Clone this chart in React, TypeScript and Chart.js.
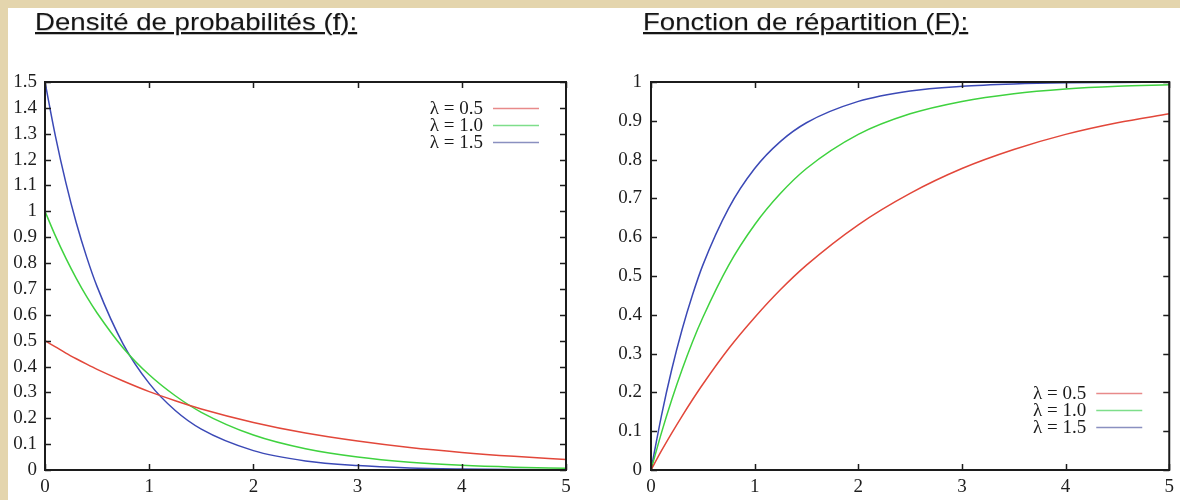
import React, { useEffect, useRef } from "react";
import { Chart, registerables } from "chart.js";

Chart.register(...registerables);

// ---- data ----
const xs = [0, 0.1, 0.2, 0.3, 0.4, 0.5, 0.75, 1, 1.25, 1.5, 2, 2.5, 3, 3.5, 4, 4.5, 5];
const lambdaLabels = ["λ = 0.5", "λ = 1.0", "λ = 1.5"];

const density05 = [0.5, 0.476, 0.452, 0.43, 0.409, 0.389, 0.344, 0.303, 0.268, 0.236, 0.184, 0.143, 0.112, 0.087, 0.068, 0.053, 0.041];
const density10 = [1.0, 0.905, 0.819, 0.741, 0.67, 0.607, 0.472, 0.368, 0.287, 0.223, 0.135, 0.082, 0.05, 0.03, 0.018, 0.011, 0.007];
const density15 = [1.5, 1.291, 1.111, 0.956, 0.823, 0.709, 0.487, 0.335, 0.23, 0.158, 0.075, 0.035, 0.017, 0.008, 0.004, 0.002, 0.001];

const cdf05 = [0, 0.049, 0.095, 0.139, 0.181, 0.221, 0.313, 0.393, 0.465, 0.528, 0.632, 0.713, 0.777, 0.826, 0.865, 0.895, 0.918];
const cdf10 = [0, 0.095, 0.181, 0.259, 0.33, 0.393, 0.528, 0.632, 0.713, 0.777, 0.865, 0.918, 0.95, 0.97, 0.982, 0.989, 0.993];
const cdf15 = [0, 0.139, 0.259, 0.362, 0.451, 0.528, 0.675, 0.777, 0.847, 0.895, 0.95, 0.977, 0.989, 0.995, 0.998, 0.999, 1.0];

const xTickRange = { min: 0, max: 5, step: 1 };
const densityYRange = { min: 0, max: 1.5, step: 0.1 };
const cdfYRange = { min: 0, max: 1, step: 0.1 };

const titles = ["Densité de probabilités (f):", "Fonction de répartition (F):"];

// ---- styles ----
const COLORS = ["#e2473a", "#3fd23f", "#3b49b6"];
const LEGEND_COLORS = ["#e88a8a", "#7ede8a", "#8a90c0"];
const SERIF = "'Liberation Serif', 'DejaVu Serif', serif";
const FONT_SIZE = 19;

const fmt = (v: number) => String(Number(Number(v).toFixed(1)));

function makeFramePlugin(legend: { anchor: "top" | "bottom"; offset: number }) {
  return {
    id: "frameAndLegend",
    afterDatasetsDraw(chart: any) {
      const { ctx, chartArea } = chart;
      const { left, right, top, bottom } = chartArea;
      const xs_ = chart.scales.x;
      const ys_ = chart.scales.y;
      ctx.save();
      ctx.strokeStyle = "#1c1c1c";
      ctx.lineWidth = 1.5;
      const tl = 6;
      ctx.beginPath();
      xs_.ticks.forEach((t: any) => {
        const px = Math.round(xs_.getPixelForValue(t.value)) + 0.5;
        ctx.moveTo(px, bottom);
        ctx.lineTo(px, bottom - tl);
        ctx.moveTo(px, top);
        ctx.lineTo(px, top + tl);
      });
      ys_.ticks.forEach((t: any) => {
        const py = Math.round(ys_.getPixelForValue(t.value)) + 0.5;
        ctx.moveTo(left, py);
        ctx.lineTo(left + tl, py);
        ctx.moveTo(right, py);
        ctx.lineTo(right - tl, py);
      });
      ctx.stroke();
      ctx.lineWidth = 2;
      ctx.strokeRect(left, top, right - left, bottom - top);

      // legend
      const lineEnd = right - 27;
      const lineStart = lineEnd - 46;
      const textRight = lineStart - 10;
      const rowH = 17;
      const y0 = legend.anchor === "top" ? top + legend.offset : bottom - legend.offset;
      ctx.font = `${FONT_SIZE}px ${SERIF}`;
      ctx.textAlign = "right";
      ctx.textBaseline = "middle";
      chart.data.datasets.forEach((ds: any, i: number) => {
        const y = y0 + i * rowH;
        ctx.fillStyle = "#1a1a1a";
        ctx.fillText(ds.label, textRight, y + 1);
        ctx.strokeStyle = LEGEND_COLORS[i];
        ctx.lineWidth = 1.5;
        ctx.beginPath();
        ctx.moveTo(lineStart, y + 0.5);
        ctx.lineTo(lineEnd, y + 0.5);
        ctx.stroke();
      });
      ctx.restore();
    },
  };
}

function buildConfig(
  series: number[][],
  yRange: { min: number; max: number; step: number },
  yWidth: number,
  padRight: number,
  yPad: number,
  legend: { anchor: "top" | "bottom"; offset: number }
): any {
  return {
    type: "line",
    data: {
      datasets: series.map((vals, i) => ({
        label: lambdaLabels[i],
        data: xs.map((x, j) => ({ x, y: vals[j] })),
        borderColor: COLORS[i],
        borderWidth: 1.5,
        pointRadius: 0,
        fill: false,
        cubicInterpolationMode: "monotone",
      })),
    },
    options: {
      animation: false,
      responsive: false,
      devicePixelRatio: 1,
      layout: { padding: { top: 42, right: padRight, bottom: 0, left: 0 } },
      plugins: { legend: { display: false }, tooltip: { enabled: false }, title: { display: false } },
      scales: {
        x: {
          type: "linear",
          min: xTickRange.min,
          max: xTickRange.max,
          grid: { display: false, drawTicks: false },
          border: { display: false },
          ticks: {
            stepSize: xTickRange.step,
            color: "#1e1e1e",
            font: { family: SERIF, size: FONT_SIZE },
            padding: 6,
            maxRotation: 0,
            callback: (v: any) => fmt(v),
          },
          afterFit: (s: any) => {
            s.height = 30;
          },
        },
        y: {
          type: "linear",
          min: yRange.min,
          max: yRange.max,
          grid: { display: false, drawTicks: false },
          border: { display: false },
          ticks: {
            stepSize: yRange.step,
            color: "#1e1e1e",
            font: { family: SERIF, size: FONT_SIZE },
            padding: yPad,
            callback: (v: any) => fmt(v),
          },
          afterFit: (s: any) => {
            s.width = yWidth;
          },
        },
      },
    },
    plugins: [makeFramePlugin(legend)],
  };
}

export default function App() {
  const leftRef = useRef<HTMLCanvasElement>(null);
  const rightRef = useRef<HTMLCanvasElement>(null);

  useEffect(() => {
    document.documentElement.style.overflow = "hidden";
    document.body.style.background = "#e4d5ad";
    document.body.style.margin = "8px 0 0 8px";
    const c1 = new Chart(
      leftRef.current!,
      buildConfig([density05, density10, density15], densityYRange, 37, 22, 8, { anchor: "top", offset: 26 })
    );
    const c2 = new Chart(
      rightRef.current!,
      buildConfig([cdf05, cdf10, cdf15], cdfYRange, 55, 9, 9, { anchor: "bottom", offset: 77 })
    );
    return () => {
      c1.destroy();
      c2.destroy();
    };
  }, []);

  const titleStyle: React.CSSProperties = {
    position: "absolute",
    top: 2,
    fontFamily: "'Liberation Sans', Arial, sans-serif",
    fontSize: 24,
    lineHeight: "24px",
    color: "#151515",
    textDecoration: "underline",
    textDecorationThickness: "1.5px",
    textUnderlineOffset: "2px",
    textShadow: "0 1px 1px rgba(0,0,0,0.25)",
    whiteSpace: "nowrap",
    transform: "scaleX(1.15)",
    transformOrigin: "0 0",
  };

  return (
    <div style={{ position: "relative", width: 1172, height: 492, background: "#ffffff", overflow: "hidden" }}>
      <div style={{ ...titleStyle, left: 27 }}>{titles[0]}</div>
      <div style={{ ...titleStyle, left: 635 }}>{titles[1]}</div>
      <canvas ref={leftRef} width={580} height={460} style={{ position: "absolute", left: 0, top: 32 }} />
      <canvas ref={rightRef} width={584} height={460} style={{ position: "absolute", left: 588, top: 32 }} />
    </div>
  );
}
